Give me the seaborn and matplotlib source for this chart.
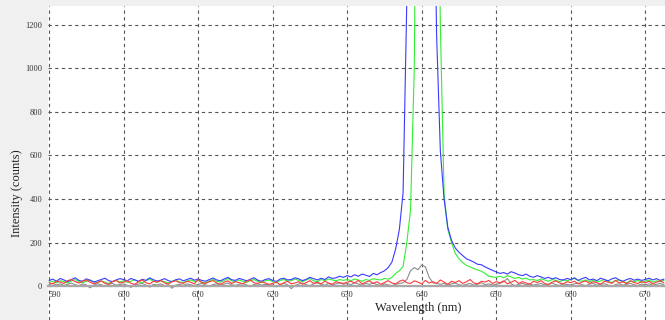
import numpy as np
import pandas as pd
import matplotlib
matplotlib.use("Agg")
import matplotlib.pyplot as plt
import seaborn as sns

# wavelength grid (nm), 0.5 nm step
wavelength = np.arange(590.0, 672.51, 0.5)

blue = [
    25, 32, 22, 35, 28, 20, 30, 38, 26, 22, 33, 27, 18, 24, 30, 36, 25, 20, 28, 34,
    30, 24, 35, 28, 22, 31, 26, 38, 29, 23, 27, 34, 25, 20, 29, 33, 24, 30, 36, 27,
    32, 26, 22, 30, 37, 28, 24, 33, 40, 29, 26, 35, 30, 24, 31, 38, 27, 22, 30, 34,
    26, 21, 32, 36, 28, 30, 38, 33, 25, 31, 40, 34, 28, 36, 30, 42, 35, 38, 45, 40,
    48, 42, 52, 45, 55, 50, 44, 58, 52, 62, 70, 85, 110, 170, 260, 430, 1300, 3000, 4500, 5500,
    6000, 5000, 3500, 2200, 1150, 620, 400, 270, 210, 175, 155, 140, 125, 118, 110, 100, 98, 88, 80, 72,
    65, 58, 62, 55, 66, 60, 52, 48, 55, 45, 40, 48, 42, 35, 40, 33, 38, 30, 28, 35,
    30, 38, 26, 34, 40, 28, 32, 25, 36, 30, 24, 33, 38, 28, 22, 30, 35, 27, 32, 26,
    30, 36, 28, 34, 26, 32,
]

green = [
    18, 22, 15, 25, 20, 14, 24, 30, 19, 16, 22, 28, 20, 15, 23, 18, 12, 21, 26, 19,
    24, 17, 22, 30, 20, 15, 25, 32, 22, 18, 24, 20, 14, 22, 27, 19, 16, 23, 28, 21,
    25, 18, 15, 24, 30, 22, 18, 26, 35, 24, 20, 28, 22, 17, 25, 30, 21, 16, 24, 28,
    20, 15, 26, 30, 22, 25, 32, 26, 20, 28, 35, 24, 20, 30, 25, 32, 28, 24, 30, 26,
    30, 25, 32, 28, 22, 30, 26, 34, 30, 28, 35, 32, 40, 58, 70, 90, 200, 350, 1000, 3000,
    6000, 6000, 5000, 3500, 2600, 1200, 420, 260, 200, 150, 125, 108, 95, 88, 80, 74, 68, 58, 45, 42,
    40, 45, 38, 48, 42, 35, 40, 32, 36, 28, 30, 25, 33, 28, 22, 30, 26, 20, 28, 24,
    30, 35, 25, 22, 28, 20, 26, 18, 24, 30, 22, 16, 25, 28, 20, 15, 24, 20, 26, 18,
    22, 28, 18, 24, 20, 26,
]

gray = [
    8, 12, 5, 10, 3, 8, 14, 6, 2, 10, 5, -8, 4, 10, 6, 0, 8, 12, 4, 7,
    10, 3, -6, 6, 9, 12, 4, -5, 8, 5, 10, 2, 6, -10, 4, 8, 3, 10, 6, 2,
    8, 12, 5, 0, 7, 10, 4, 9, 14, 6, 3, 8, 11, 5, 0, 7, 10, 4, 8, 6,
    5, -4, 8, 12, 6, -12, 3, 9, 14, 6, 2, 10, 15, 8, 4, 12, 6, 10, 15, 8,
    12, 6, 15, 10, 4, 12, 8, 14, 6, 3, 10, 5, 2, 8, 12, 15, 30, 70, 85, 75,
    97, 88, 40, 15, 12, 8, 12, 5, 10, 14, 6, 3, 8, 12, 4, 9, 15, 6, 10, 5,
    8, 12, 20, 35, 10, 2, 8, 12, 6, 10, 4, 8, 12, 5, 9, 14, 6, 3, 10, 7,
    5, 10, 14, 6, 2, 9, 12, 4, 8, 11, 5, -3, 7, 10, 4, 8, 12, 6, 3, 9,
    6, 10, 4, 8, 12, 5,
]

red = [
    15, 10, 22, 18, 12, 25, 30, 20, 14, 22, 28, 18, 10, 16, 24, 12, 8, 20, 26, 14,
    18, 25, 12, 8, 20, 28, 15, 10, 22, 18, 26, 14, 9, 20, 24, 16, 12, 22, 18, 10,
    30, 15, 12, 20, 25, 14, 8, 18, 24, 12, 20, 16, 10, 22, 28, 15, 12, 20, 14, 8,
    12, 18, 6, 15, 22, 10, 14, 20, 8, 16, 25, 12, 18, 10, 22, 14, 8, 20, 15, 12,
    18, 22, 14, 26, 10, 18, 24, 12, 20, 8, 16, 25, 14, 10, 22, 28, 15, 12, 24, 18,
    10, 26, 14, 20, 12, 28, 18, 8, 22, 16, 25, 12, 20, 30, 14, 10, 22, 18, 26, 12,
    20, 15, 24, 10, 18, 26, 12, 20, 14, 8, 22, 16, 25, 12, 6, 18, 24, 14, 10, 20,
    16, 22, 10, 18, 24, 12, 20, 15, 8, 22, 18, 12, 26, 14, 20, 10, 24, 16, 12, 20,
    15, 22, 10, 18, 25, 14,
]

x_ticks = [590, 600, 610, 620, 630, 640, 650, 660, 670]
y_ticks = [0, 200, 400, 600, 800, 1000, 1200]

sns.set_style("white")
plt.rcParams["font.family"] = ["Liberation Serif", "DejaVu Serif"]

fig = plt.figure(figsize=(6.65, 3.2), dpi=100, facecolor="#f0f0f0")
ax = fig.add_axes([48.3 / 665, 0.0, (665 - 48.3) / 665, 314 / 320])
ax.set_facecolor("white")

series = [("gray", gray, "#8c8c8c"), ("green", green, "#33ee33"),
          ("blue", blue, "#3a3aff"), ("red", red, "#ff3a3a")]
for name, vals, col in series:
    df = pd.DataFrame({"wl": wavelength, "v": vals})
    sns.lineplot(data=df, x="wl", y="v", ax=ax, color=col, lw=0.8,
                 estimator=None, legend=False)

ax.set_xlim(589.9, 672.64)
ax.set_ylim(-156, 1287)
ax.set_xticks(x_ticks)
ax.set_yticks(y_ticks)
ax.set_xticklabels([str(t) for t in x_ticks])
ax.set_yticklabels([str(t) for t in y_ticks])

ax.grid(True, color="#555555", linestyle=(0, (3, 3)), linewidth=0.8)
ax.set_axisbelow(True)

for s in ["top", "right", "left"]:
    ax.spines[s].set_visible(False)
ax.spines["bottom"].set_position(("data", 0))
ax.spines["bottom"].set_color("#a8a8a8")
ax.spines["bottom"].set_linewidth(1.6)

ax.tick_params(axis="y", length=3.5, width=0.8, color="#555555", pad=0.8,
               labelsize=6, labelcolor="#333333")
ax.tick_params(axis="x", length=2, width=0.8, color="#555555", pad=1.5,
               labelsize=6, labelcolor="#333333")
ax.get_xticklabels()[0].set_ha("left")

ax.set_xlabel("Wavelength (nm)", fontsize=9, color="#222222")
ax.set_ylabel("Intensity (counts)", fontsize=9, color="#222222")
ax.xaxis.set_label_coords(0.6, 0.057)
ax.yaxis.set_label_coords(-0.0508, 0.404)
ax.yaxis.label.set_va("center")

fig.savefig("out.png", dpi=100, facecolor=fig.get_facecolor())
